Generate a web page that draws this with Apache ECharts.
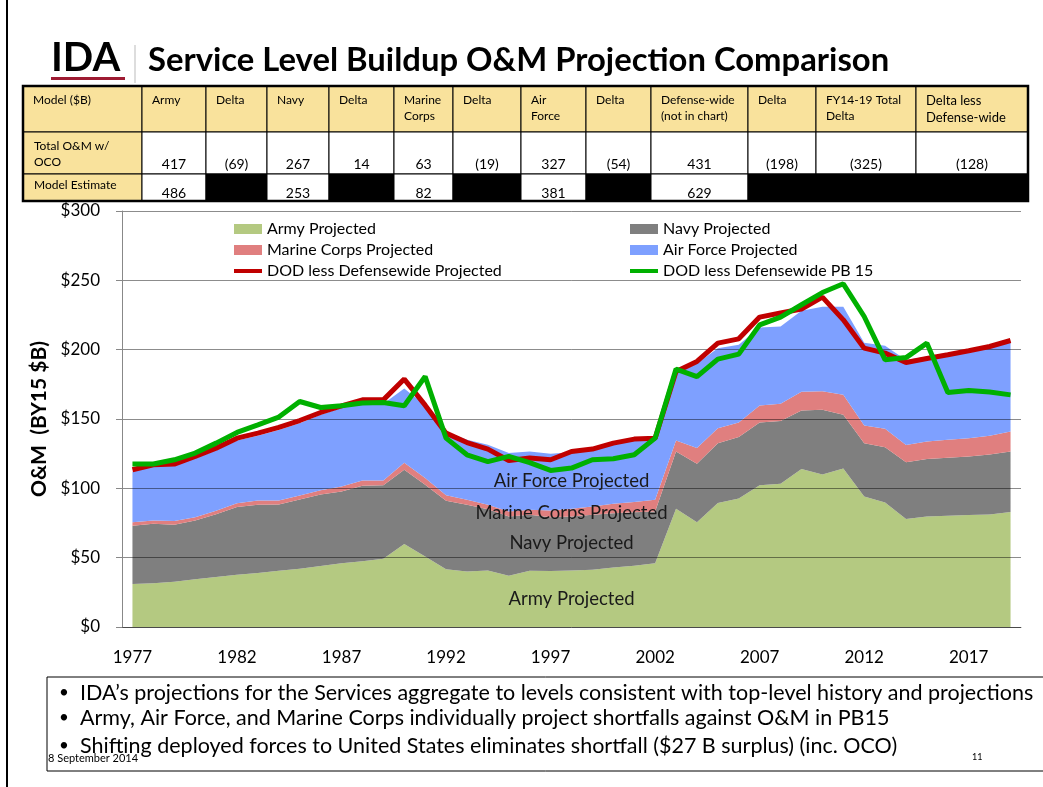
<!DOCTYPE html>
<html>
<head>
<meta charset="utf-8">
<script src="https://cdn.jsdelivr.net/npm/echarts@6/dist/echarts.min.js"></script>
<style>
html,body{margin:0;padding:0;background:#fff}
#chart{width:1043px;height:787px}
</style>
</head>
<body>
<div id="chart"></div>
<script>
// categories (fiscal years)
var years = ['1977','1978','1979','1980','1981','1982','1983','1984','1985','1986',
  '1987','1988','1989','1990','1991','1992','1993','1994','1995','1996',
  '1997','1998','1999','2000','2001','2002','2003','2004','2005','2006',
  '2007','2008','2009','2010','2011','2012','2013','2014','2015','2016',
  '2017','2018','2019']

// stacked service projections, $B
var army = [31,31.6,32.6,34.5,36,37.6,39,40.5,42,44,46,47.5,49.2,59.8,
  50.9,41.7,40,40.8,36.9,40.5,40.3,40.8,41.2,42.9,
  44.1,46,85.2,75.6,89.5,92.7,102.3,103.3,113.9,110,
  114.3,94.1,89.8,77.8,79.7,80.2,80.7,81.1,82.9]
var navy = [42,42.8,41.1,42.3,45.4,48.9,49.1,47.8,50,51.6,51.7,54.3,53.1,53.6,
  51.6,49.3,48.1,44.2,42.8,40.4,38.9,38.9,39.7,39.2,
  38.7,37.3,41.4,42.1,43.1,44.3,45.2,45.2,42.2,46.6,
  38.7,38.5,39.9,41.1,41.4,41.8,42.3,43.3,43.7]
var marines = [2.6,2.4,2.7,2.4,2.4,2.8,3.1,2.9,2.8,3.1,3.6,3.8,3.3,5.1,
  4.9,4,3.6,3.1,3.6,3.6,4.8,5.5,6,6.7,
  7.3,8.4,7.9,11.3,10.8,10.5,12.2,12.5,13.5,13.5,
  14.4,12.7,13.2,12.3,12.7,13,13.2,13.5,14.4]
var airForce = [36.4,39.2,40.1,42.3,43.7,45.2,46.8,50.8,52.2,54.3,56.7,55.4,55.4,53.5,
  52.6,46,43.3,43.3,42.1,42.1,40.9,40.8,40.6,42.7,
  44.4,43.8,48.5,61,57.6,56,56.3,55.7,58.4,60.9,
  63.6,59.7,59.9,61.3,61.2,61.5,63.3,64.4,64.9]

// totals
var dodProjected = [113.4,117,117.5,123,129,136.2,139.8,143.9,148.9,154.7,159.5,163.8,163.8,178.8,
  160,139.8,133,128.3,120.1,121.8,120.6,126.6,128.3,132.6,
  135.5,136.2,184.3,191.5,204.7,207.8,223.5,226.4,229.3,237.9,
  221.5,201.1,197.5,190.7,193.6,196.3,199.2,202.3,206.6]
var dodPB15 = [117.5,117.5,120.6,125.4,132.6,140.3,145.8,151.4,162.6,158.3,159.5,161.5,161.9,159.5,
  180.6,136.2,124.2,119.3,123,118.6,112.9,114.6,120.6,121.3,
  124.2,136.2,186,180.6,193.2,196.8,217.9,223.5,232.4,241.2,
  247.5,223.9,192.7,194.3,204.7,169.1,170.6,169.4,167.4]

var labelYear = '1998'

// table above the chart
var tableHead = ['Model ($B)','Army','Delta','Navy','Delta','Marine\nCorps','Delta','Air\nForce','Delta',
  'Defense-wide\n(not in chart)','Delta','FY14-19 Total\nDelta','Delta less\nDefense-wide']
var tableTotal = ['Total O&M w/\nOCO','417','(69)','267','14','63','(19)','327','(54)','431','(198)','(325)','(128)']
var tableModel = ['Model Estimate','486',null,'253',null,'82',null,'381',null,'629',null,null,null]

var bullets = [
  'IDA\u2019s projections for the Services aggregate to levels consistent with top-level history and projections',
  'Army, Air Force, and Marine Corps individually project shortfalls against O&M in PB15',
  'Shifting deployed forces to United States eliminates shortfall ($27 B surplus) (inc. OCO)'
]

var FONT = 'Lato'
// thick legend line, kept inside a 28x10 box
var LINE_ICON = 'path://M0,0L0.01,0L0,0.01Z M0,3L28,3L28,7L0,7Z M0,10L0.01,10L0,9.99Z'
var myChart = echarts.init(document.getElementById('chart'))

// label in the middle of each stacked band
var stackList = [army, navy, marines, airForce]
var li = years.indexOf(labelYear)
function bandLabel(k, name){
  var base = 0
  for (var j = 0; j < k; j++) base += stackList[j][li]
  return {
    symbolSize: 0,
    label: {show: true, formatter: name, color: '#1a1a1a', fontFamily: FONT, fontSize: 18.5, position: 'inside'},
    data: [{coord: [labelYear, base + stackList[k][li] / 2]}]
  }
}
function areaSeries(name, data, color, k){
  return {
    name: name, type: 'line', stack: 'svc', data: data, symbol: 'none',
    lineStyle: {width: 0}, itemStyle: {color: color},
    areaStyle: {color: color, opacity: 1}, z: 2,
    markPoint: bandLabel(k, name)
  }
}

// graphic: slide decorations + table
var colX = [23,142,206,267,329,394,453,521,586,651,748,816,916,1028]
var rowY = [86,132,174,201]
var YEL = '#F9E29C'
var g = []
g.push({type:'line', shape:{x1:7, y1:0, x2:7, y2:787}, style:{stroke:'#000', lineWidth:2}})
g.push({type:'text', left:51, top:38, style:{text:'IDA', fontFamily:FONT, fontWeight:'bold', fontSize:40, fill:'#000'}})
g.push({type:'rect', shape:{x:51, y:77, width:74, height:3}, style:{fill:'#9E1B32'}})
g.push({type:'line', shape:{x1:135, y1:45, x2:135, y2:83}, style:{stroke:'#bbb', lineWidth:1}})
g.push({type:'text', left:148, top:44, style:{text:'Service Level Buildup O&M Projection Comparison', fontFamily:FONT, fontWeight:'bold', fontSize:32.8, fill:'#000'}})

for (var c = 0; c < 13; c++){
  var x0 = colX[c], w = colX[c+1] - colX[c]
  // header row
  g.push({type:'rect', shape:{x:x0, y:rowY[0], width:w, height:rowY[1]-rowY[0]}, style:{fill:YEL, stroke:'#000', lineWidth:1}})
  g.push({type:'text', x:x0+10, y:rowY[0]+6, style:{text:tableHead[c], fontFamily:FONT, fontSize:c==12?13:12, lineHeight:c==12?17:16, fill:'#000'}})
  // total row
  g.push({type:'rect', shape:{x:x0, y:rowY[1], width:w, height:rowY[2]-rowY[1]}, style:{fill:c==0?YEL:'#fff', stroke:'#000', lineWidth:1}})
  if (c == 0)
    g.push({type:'text', x:x0+11, y:rowY[1]+6, style:{text:tableTotal[c], fontFamily:FONT, fontSize:12, lineHeight:16, fill:'#000'}})
  else
    g.push({type:'text', x:x0+w/2, y:rowY[2]-3, style:{text:tableTotal[c], fontFamily:FONT, fontSize:14, fill:'#000', align:'center', verticalAlign:'bottom'}})
  // model row
  var v = tableModel[c]
  g.push({type:'rect', shape:{x:x0, y:rowY[2], width:w, height:rowY[3]-rowY[2]}, style:{fill:c==0?YEL:(v==null?'#000':'#fff'), stroke:'#000', lineWidth:1}})
  if (c == 0)
    g.push({type:'text', x:x0+11, y:rowY[2]+5, style:{text:v, fontFamily:FONT, fontSize:12, fill:'#000'}})
  else if (v != null)
    g.push({type:'text', x:x0+w/2, y:rowY[3]-1, style:{text:v, fontFamily:FONT, fontSize:14, fill:'#000', align:'center', verticalAlign:'bottom'}})
}
g.push({type:'rect', shape:{x:colX[0], y:rowY[0], width:colX[13]-colX[0], height:rowY[3]-rowY[0]}, style:{fill:'none', stroke:'#000', lineWidth:2.5}})

// bullet box
g.push({type:'rect', shape:{x:47, y:677, width:1010, height:94}, style:{fill:'none', stroke:'#000', lineWidth:1}})
var by = [693, 718, 746]
for (var b = 0; b < bullets.length; b++){
  g.push({type:'text', x:59, y:by[b], style:{text:'\u2022', fontFamily:FONT, fontSize:17, fill:'#000', verticalAlign:'middle'}})
  g.push({type:'text', x:80, y:by[b], style:{text:bullets[b], fontFamily:FONT, fontSize:21.5, fill:'#000', verticalAlign:'middle'}})
}
g.push({type:'text', x:48, y:758, style:{text:'8 September 2014', fontFamily:FONT, fontSize:11, fill:'#000', verticalAlign:'middle'}})
g.push({type:'text', x:972, y:757, style:{text:'11', fontFamily:FONT, fontSize:9, fill:'#000', verticalAlign:'middle'}})

option = {
  animation: false,
  backgroundColor: '#fff',
  textStyle: {fontFamily: FONT},
  grid: {left: 122, right: 22, top: 211, bottom: 160},
  legend: [
    {left: 234, top: 221, padding: 0, orient: 'vertical', itemWidth: 28, itemHeight: 10, itemGap: 5,
      textStyle: {fontFamily: FONT, fontSize: 16, color: '#000'},
      data: [{name: 'Army Projected', icon: 'rect'}, {name: 'Marine Corps Projected', icon: 'rect'},
        {name: 'DOD less Defensewide Projected', icon: LINE_ICON}]},
    {left: 630, top: 221, padding: 0, orient: 'vertical', itemWidth: 28, itemHeight: 10, itemGap: 5,
      textStyle: {fontFamily: FONT, fontSize: 16, color: '#000'},
      data: [{name: 'Navy Projected', icon: 'rect'}, {name: 'Air Force Projected', icon: 'rect'},
        {name: 'DOD less Defensewide PB 15', icon: LINE_ICON}]}
  ],
  xAxis: {
    type: 'category', data: years, boundaryGap: true,
    axisLine: {lineStyle: {color: '#888', width: 1}},
    axisTick: {interval: 4, length: 6, lineStyle: {color: '#888'}},
    axisLabel: {interval: 4, color: '#000', fontSize: 17, fontFamily: FONT, margin: 22}
  },
  yAxis: {
    type: 'value', min: 0, max: 300, interval: 50, z: 3,
    name: 'O&M  (BY15 $B)', nameLocation: 'middle', nameGap: 68, nameRotate: 90,
    nameTextStyle: {fontFamily: FONT, fontWeight: 'bold', fontSize: 21, color: '#000'},
    axisLine: {show: true, lineStyle: {color: '#888'}},
    axisTick: {show: true, length: 6, lineStyle: {color: '#888'}},
    axisLabel: {formatter: '${value}', color: '#000', fontSize: 17, fontFamily: FONT, margin: 22},
    splitLine: {lineStyle: {color: 'rgba(0,0,0,0.45)', width: 1}}
  },
  graphic: g,
  series: [
    areaSeries('Army Projected', army, '#B4C981', 0),
    areaSeries('Navy Projected', navy, '#7F7F7F', 1),
    areaSeries('Marine Corps Projected', marines, '#E07F7F', 2),
    areaSeries('Air Force Projected', airForce, '#7EA0FF', 3),
    {name: 'DOD less Defensewide Projected', type: 'line', data: dodProjected, symbol: 'none', z: 5,
      itemStyle: {color: '#C00000'}, lineStyle: {color: '#C00000', width: 5}},
    {name: 'DOD less Defensewide PB 15', type: 'line', data: dodPB15, symbol: 'none', z: 6,
      itemStyle: {color: '#00B000'}, lineStyle: {color: '#00B000', width: 5}}
  ]
}
myChart.setOption(option)
</script>
</body>
</html>
